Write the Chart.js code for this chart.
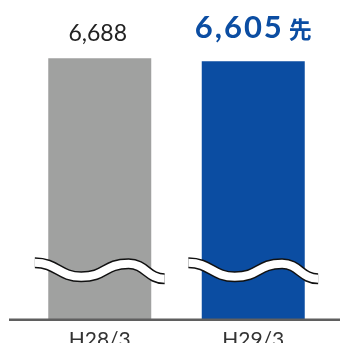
<!DOCTYPE html>
<html>
<head>
<meta charset="utf-8">
<script src="https://cdn.jsdelivr.net/npm/chart.js@4"></script>
<style>
html,body{margin:0;padding:0;background:#fff;}
#wrap{width:340px;height:343px;position:relative;}
</style>
</head>
<body>
<div id="wrap"><canvas id="c" width="340" height="343"></canvas></div>
<script>
const categories = ['H28/3', 'H29/3'];
const values = [6688, 6605];
const valueLabels = ['6,688', '6,605'];
const labelSuffixes = ['', '先'];
const axisMin = -533;
const axisMax = 8293;

const barColors = ['#a0a1a0', '#0b4da2'];
const FONT = "Lato, 'Noto Sans CJK JP', sans-serif";

const wavePlugin = {
  id: 'waves',
  afterDatasetsDraw(chart) {
    const ctx = chart.ctx;
    const meta = chart.getDatasetMeta(0);
    meta.data.forEach((bar) => {
      const c = bar.x, w = bar.width, b = bar.base;
      const p0 = [c - 0.63 * w, b - 57];
      const p1 = [c - 0.18 * w, b - 43];
      const p2 = [c + 0.28 * w, b - 56];
      const p3 = [c + 0.63 * w, b - 41];
      const path = () => {
        ctx.beginPath();
        ctx.moveTo(p0[0], p0[1]);
        ctx.bezierCurveTo(p0[0] + 22, p0[1], p1[0] - 22, p1[1], p1[0], p1[1]);
        ctx.bezierCurveTo(p1[0] + 25, p1[1], p2[0] - 25, p2[1], p2[0], p2[1]);
        ctx.bezierCurveTo(p2[0] + 17, p2[1], p3[0] - 17, p3[1], p3[0], p3[1]);
      };
      ctx.save();
      ctx.lineCap = 'butt';
      path(); ctx.strokeStyle = '#111'; ctx.lineWidth = 11; ctx.stroke();
      path(); ctx.strokeStyle = '#fff'; ctx.lineWidth = 8; ctx.stroke();
      ctx.restore();
    });
  }
};

const labelPlugin = {
  id: 'valueLabels',
  afterDatasetsDraw(chart) {
    const ctx = chart.ctx;
    const meta = chart.getDatasetMeta(0);
    meta.data.forEach((bar, i) => {
      ctx.save();
      ctx.textBaseline = 'alphabetic';
      if (!labelSuffixes[i]) {
        ctx.font = '400 23px ' + FONT;
        ctx.fillStyle = '#222';
        ctx.textAlign = 'center';
        ctx.fillText(valueLabels[i], bar.x - 2, bar.y - 17);
      } else {
        const mainFont = '700 31px ' + FONT;
        const sufFont = '700 23px ' + FONT;
        ctx.letterSpacing = '2px';
        ctx.font = mainFont;
        const w1 = ctx.measureText(valueLabels[i]).width;
        ctx.letterSpacing = '0px';
        ctx.font = sufFont;
        const w2 = ctx.measureText(labelSuffixes[i]).width;
        const gap = 5;
        const total = w1 + gap + w2;
        let x = bar.x - total / 2;
        ctx.fillStyle = barColors[i];
        ctx.textAlign = 'left';
        ctx.letterSpacing = '2px';
        ctx.font = mainFont;
        ctx.fillText(valueLabels[i], x, bar.y - 23);
        ctx.letterSpacing = '0px';
        ctx.font = sufFont;
        ctx.fillText(labelSuffixes[i], x + w1 + gap, bar.y - 23);
      }
      ctx.restore();
    });
  }
};

const baselinePlugin = {
  id: 'baseline',
  afterDatasetsDraw(chart) {
    const ctx = chart.ctx;
    const y = chart.scales.y.getPixelForValue(chart.scales.y.min);
    ctx.save();
    ctx.strokeStyle = '#5f5f5f';
    ctx.lineWidth = 2.5;
    ctx.beginPath();
    ctx.moveTo(9, y);
    ctx.lineTo(chart.width, y);
    ctx.stroke();
    ctx.restore();
  }
};

new Chart(document.getElementById('c'), {
  type: 'bar',
  data: {
    labels: categories,
    datasets: [{
      data: values,
      base: axisMin,
      backgroundColor: barColors,
      borderWidth: 0,
      categoryPercentage: 1,
      barPercentage: 0.671
    }]
  },
  options: {
    responsive: false,
    animation: false,
    layout: { padding: { left: 23, right: 10, top: 0, bottom: -18 } },
    plugins: { legend: { display: false }, tooltip: { enabled: false } },
    scales: {
      x: {
        grid: { display: false, drawTicks: false },
        border: { display: false },
        ticks: { color: '#333', font: { family: FONT, size: 21 }, padding: 8, maxRotation: 0 }
      },
      y: {
        display: false,
        min: axisMin,
        max: axisMax
      }
    }
  },
  plugins: [wavePlugin, labelPlugin, baselinePlugin]
});
</script>
</body>
</html>
